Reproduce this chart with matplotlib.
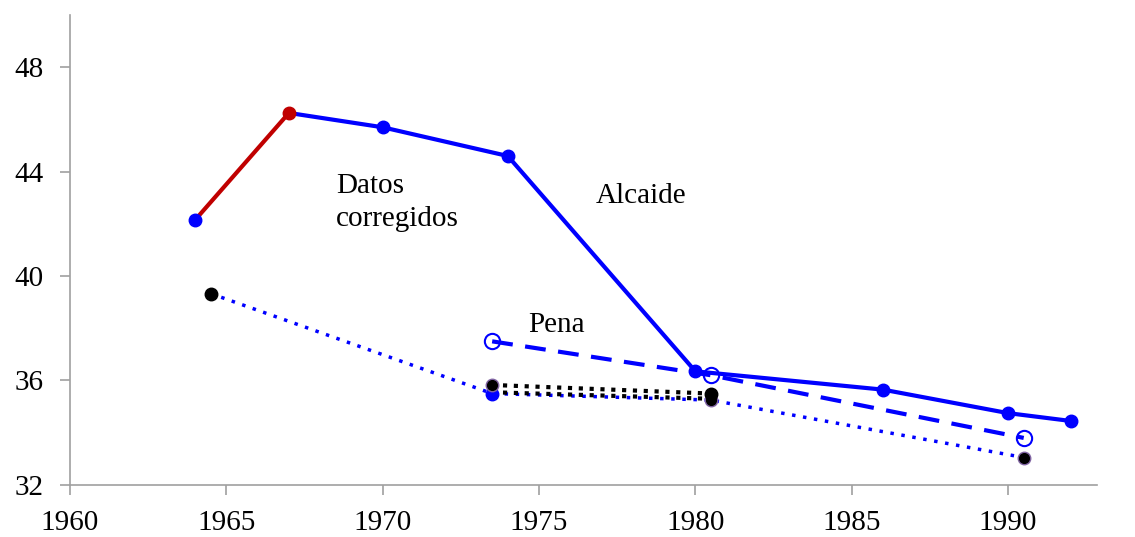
import matplotlib.pyplot as plt

plt.rcParams['font.family'] = ['Liberation Serif', 'DejaVu Serif']

# Alcaide (datos corregidos)
alc_anios = [1964, 1967, 1970, 1974, 1980, 1986, 1990, 1992]
alc_valores = [42.15, 46.25, 45.7, 44.6, 36.35, 35.65, 34.75, 34.45]

# Pena
pena_anios = [1973.5, 1980.5, 1990.5]
pena_valores = [37.5, 36.2, 33.8]

# Serie punteada azul
punt_anios = [1964.5, 1973.5, 1980.5, 1990.5]
punt_valores = [39.33, 35.5, 35.25, 33.05]

# Segmentos punteados negros
neg1_anios = [1973.5, 1980.5]
neg1_valores = [35.83, 35.5]
neg2_anios = [1973.5, 1980.5]
neg2_valores = [35.55, 35.3]

fig = plt.figure(figsize=(11.35, 5.37), dpi=100)
ax = fig.add_axes([0.0617, 0.097, 0.905, 0.875])

azul = '#0000ff'
rojo = '#c00000'
gris = '#a0a0a0'
morado = '#8064a2'

# linea punteada azul
ax.plot(punt_anios, punt_valores, color=azul, lw=2.5, ls=(0, (1, 2.2)), zorder=2)
# segmentos negros
ax.plot(neg1_anios, neg1_valores, color='black', lw=3, ls=(0, (1, 1.6)), zorder=2)
ax.plot(neg2_anios, neg2_valores, color='black', lw=3, ls=(0, (1, 1.6)), zorder=2)

# Alcaide
ax.plot(alc_anios[1:], alc_valores[1:], color=azul, lw=3, zorder=3)
ax.plot(alc_anios[:2], alc_valores[:2], color=rojo, lw=3, zorder=3)
ax.plot(alc_anios[2:], alc_valores[2:], 'o', color=azul, ms=9, zorder=4)
ax.plot(alc_anios[0], alc_valores[0], 'o', color=azul, ms=9, zorder=4)
ax.plot(alc_anios[1], alc_valores[1], 'o', color=rojo, ms=9, zorder=4)

# Pena
ax.plot(pena_anios, pena_valores, color=azul, lw=3, ls=(0, (5, 3)), zorder=3)
ax.plot(pena_anios, pena_valores, 'o', mfc='none', mec=azul, mew=1.5, ms=11, zorder=4)

# marcadores de la serie punteada
ax.plot(punt_anios[0], punt_valores[0], 'o', color='black', ms=9, zorder=4)
ax.plot(punt_anios[1], punt_valores[1], 'o', color=azul, ms=9, zorder=4)
ax.plot(punt_anios[2:], punt_valores[2:], 'o', mfc='black', mec=morado, mew=1, ms=9, zorder=5)
ax.plot(neg1_anios[0], neg1_valores[0], 'o', mfc='black', mec=morado, mew=1, ms=9, zorder=5)
ax.plot(neg1_anios[1], neg1_valores[1], 'o', color='black', ms=9, zorder=5)

# etiquetas
ax.text(1968.5, 43.18, 'Datos', fontsize=21)
ax.text(1968.5, 41.92, 'corregidos', fontsize=21)
ax.text(1976.8, 42.8, 'Alcaide', fontsize=21)
ax.text(1974.65, 37.84, 'Pena', fontsize=21)

ax.set_xlim(1960, 1992.85)
ax.set_ylim(32, 50)
ax.set_xticks([1960, 1965, 1970, 1975, 1980, 1985, 1990])
ax.set_yticks([32, 36, 40, 44, 48])
ax.tick_params(labelsize=21, color=gris, length=7, width=1.2, direction='out')
ax.tick_params(axis='x', pad=11)
ax.tick_params(axis='y', pad=12)
for s in ['top', 'right']:
    ax.spines[s].set_visible(False)
for s in ['left', 'bottom']:
    ax.spines[s].set_color(gris)
    ax.spines[s].set_linewidth(1.2)

fig.savefig('out.png', dpi=100)
